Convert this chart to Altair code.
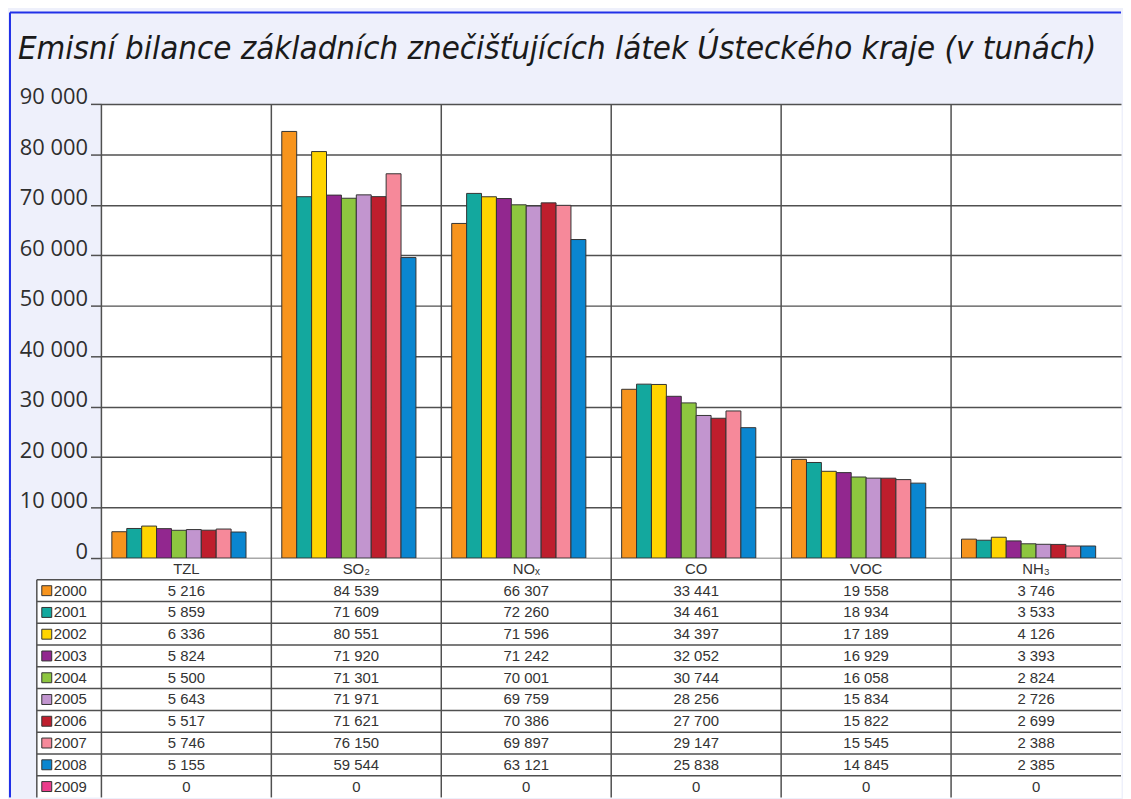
import altair as alt
import pandas as pd

categories = ["TZL", "SO₂", "NOₓ", "CO", "VOC", "NH₃"]
years = ["2000", "2001", "2002", "2003", "2004", "2005", "2006", "2007", "2008", "2009"]
v2000 = [5216, 84539, 66307, 33441, 19558, 3746]
v2001 = [5859, 71609, 72260, 34461, 18934, 3533]
v2002 = [6336, 80551, 71596, 34397, 17189, 4126]
v2003 = [5824, 71920, 71242, 32052, 16929, 3393]
v2004 = [5500, 71301, 70001, 30744, 16058, 2824]
v2005 = [5643, 71971, 69759, 28256, 15834, 2726]
v2006 = [5517, 71621, 70386, 27700, 15822, 2699]
v2007 = [5746, 76150, 69897, 29147, 15545, 2388]
v2008 = [5155, 59544, 63121, 25838, 14845, 2385]
v2009 = [0, 0, 0, 0, 0, 0]
series = [v2000, v2001, v2002, v2003, v2004, v2005, v2006, v2007, v2008, v2009]
colors = ["#f7941d", "#13a89e", "#ffd400", "#92278f", "#8dc63f",
          "#c295cf", "#be1e2d", "#f6899a", "#0a86d0", "#ec3d8c"]
title_text = "Emisní bilance základních znečišťujících látek Ústeckého kraje (v tunách)"

rows = []
for y, vals in zip(years, series):
    for c, v in zip(categories, vals):
        rows.append({"cat": c, "year": y, "value": v})
df = pd.DataFrame(rows)
cat_df = pd.DataFrame({"cat": categories})
year_df = pd.DataFrame({"year": years})
one = pd.DataFrame({"a": [0]})

W = 1026
H = 457
ROWS = ["hdr"] + years
RH = 21.9
TH = RH * len(ROWS)
GRID = "#505050"
BLUE = "#2030e8"

xscale = alt.Scale(domain=categories, paddingInner=0, paddingOuter=0)
xenc = alt.X("cat:N", scale=xscale, axis=None)
xstart = alt.X("cat:N", scale=xscale, axis=None, bandPosition=0)
cscale = alt.Scale(domain=years, range=colors)

sep = alt.Chart(cat_df).mark_rule(color=GRID, strokeWidth=1.5).encode(x=xstart)

bars = alt.Chart(df).transform_filter("datum.value > 0").mark_bar(
    stroke="#333333", strokeWidth=1
).encode(
    x=xenc,
    xOffset=alt.XOffset("year:N", scale=alt.Scale(domain=years, paddingInner=0, paddingOuter=0.7)),
    y=alt.Y("value:Q",
            scale=alt.Scale(domain=[0, 90000], nice=False),
            axis=alt.Axis(values=list(range(0, 90001, 10000)),
                          labelExpr="replace(format(datum.value, ','), ',', ' ')",
                          grid=True, gridColor=GRID, gridWidth=1.5,
                          domain=False, tickColor=GRID, tickSize=11, tickWidth=1.5,
                          labelFont="Open Sans", labelFontSize=22, labelColor="#2e2e2e",
                          labelPadding=3, labelBaseline="alphabetic", title=None)),
    color=alt.Color("year:N", scale=cscale, legend=None),
)

blue_left_top = alt.Chart(one).mark_rule(color=BLUE, strokeWidth=2).encode(
    x=alt.value(-92), y=alt.value(-92), y2=alt.value(H))
blue_top = alt.Chart(one).mark_rule(color=BLUE, strokeWidth=2).encode(
    y=alt.value(-92), x=alt.value(-92), x2=alt.value(W))
title = alt.Chart(one).mark_text(
    text=title_text, align="left", baseline="alphabetic",
    font="DejaVu Sans Condensed", fontSize=33,
    fontStyle="italic", color="#1a1a1a"
).encode(x=alt.value(-84), y=alt.value(-45))

top = alt.layer(sep, bars, blue_left_top, blue_top, title).properties(width=W, height=H)

# ---- table ----
yscale = alt.Scale(domain=ROWS, paddingInner=0, paddingOuter=0)
tdf = df.copy()
hdr_df = pd.DataFrame({"cat": categories, "year": ["hdr"] * len(categories)})

cell_txt = alt.Chart(tdf).transform_calculate(
    label="replace(format(datum.value, ','), ',', ' ')"
).mark_text(font="Liberation Sans", fontSize=15, color="#333333").encode(
    x=xenc, y=alt.Y("year:N", scale=yscale, axis=None), text="label:N")

hdr_txt = alt.Chart(hdr_df).mark_text(font="Liberation Sans", fontSize=15, color="#333333").encode(
    x=xenc, y=alt.Y("year:N", scale=yscale, axis=None), text="cat:N")

legend_bg = alt.Chart(year_df).mark_rect(fill="white").encode(
    y=alt.Y("year:N", scale=yscale, axis=None), x=alt.value(-65), x2=alt.value(0))

tsep = alt.Chart(cat_df).mark_rule(color=GRID, strokeWidth=1.5).encode(x=xstart)

hlines = alt.Chart(year_df).mark_rule(color=GRID, strokeWidth=1.5).encode(
    y=alt.Y("year:N", scale=yscale, axis=None, bandPosition=0),
    x=alt.value(-65), x2=alt.value(W))

leg_vline = alt.Chart(one).mark_rule(color=GRID, strokeWidth=1.5).encode(
    x=alt.value(-65), y=alt.value(RH), y2=alt.value(TH))

leg_sq = alt.Chart(year_df).mark_square(size=100, stroke="#333333", strokeWidth=1, opacity=1).encode(
    x=alt.value(-55), y=alt.Y("year:N", scale=yscale, axis=None),
    color=alt.Color("year:N", scale=cscale, legend=None))

leg_txt = alt.Chart(year_df).mark_text(align="left", font="Liberation Sans", fontSize=15,
                                       color="#333333").encode(
    x=alt.value(-48), y=alt.Y("year:N", scale=yscale, axis=None), text="year:N")

blue_left_bot = alt.Chart(one).mark_rule(color=BLUE, strokeWidth=2).encode(
    x=alt.value(-92), y=alt.value(0), y2=alt.value(TH))

bottom = alt.layer(legend_bg, tsep, hlines, leg_vline, cell_txt, hdr_txt, leg_sq, leg_txt,
                   blue_left_bot).properties(width=W, height=TH)

chart = alt.vconcat(top, bottom, spacing=0, bounds="flush", padding=0).configure(
    background="#eef0fb"
).configure_view(stroke="transparent", fill="white")

chart.save("out.html", embed_options={"renderer": "svg", "actions": False})
